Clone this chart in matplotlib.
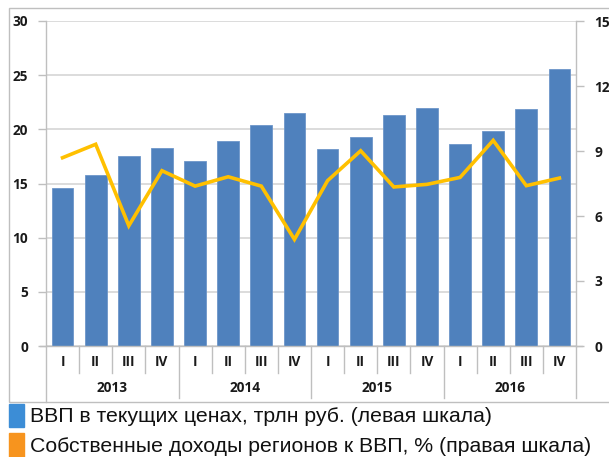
import matplotlib
matplotlib.use("Agg")
import matplotlib.pyplot as plt
from matplotlib.patches import Rectangle
import matplotlib.transforms as mtransforms

quarters = ["I", "II", "III", "IV"] * 4
years = ["2013", "2014", "2015", "2016"]
gdp = [14.6, 15.8, 17.5, 18.3, 17.1, 18.9, 20.4, 21.5,
       18.2, 19.3, 21.3, 22.0, 18.6, 19.8, 21.9, 25.6]
own_rev = [8.69, 9.31, 5.55, 8.09, 7.38, 7.81, 7.38, 4.92,
           7.63, 9.01, 7.34, 7.46, 7.78, 9.49, 7.40, 7.75]
left_ticks = [0, 5, 10, 15, 20, 25, 30]
right_ticks = [0, 3, 6, 9, 12, 15]
legend_labels = ["ВВП в текущих ценах, трлн руб. (левая шкала)",
                 "Собственные доходы регионов к ВВП, % (правая шкала)"]

W, H = 609, 457
fig = plt.figure(figsize=(W / 100, H / 100), dpi=100)

def fx(px):
    return px / W

def fy(py):
    return 1 - py / H

L, R, T, B = 46, 576, 21, 346
ax = fig.add_axes([fx(L), fy(B), fx(R) - fx(L), fy(T) - fy(B)])
ax2 = ax.twinx()

grid_c = "#D9D9D9"
spine_c = "#BFBFBF"
bar_c = "#4F81BD"
line_c = "#FFC000"
TF = "Open Sans"
TS = 9.8

x = list(range(len(gdp)))
ax.bar(x, gdp, width=0.66, color=bar_c, edgecolor="#6D96C9", linewidth=0.6, zorder=3)
ax.set_xlim(-0.5, len(gdp) - 0.5)
ax.set_ylim(0, 30)
ax.set_yticks(left_ticks)
ax.yaxis.grid(True, color=grid_c, linewidth=1.3, zorder=0)
ax.set_axisbelow(True)
ax.set_xticks([])

ax2.plot(x, own_rev, color=line_c, linewidth=2.6, solid_joinstyle="miter", zorder=5)
ax2.set_ylim(0, 15)
ax2.set_yticks(right_ticks)

ax.set_zorder(1)
ax2.set_zorder(2)
ax2.patch.set_visible(False)

for a in (ax, ax2):
    for s in ("top", "bottom"):
        a.spines[s].set_visible(False)
    a.spines["left"].set_color(spine_c)
    a.spines["right"].set_color(spine_c)
    a.spines["left"].set_linewidth(1.0)
    a.spines["right"].set_linewidth(1.0)
    a.tick_params(axis="y", length=6, width=1.0, color=spine_c, pad=7, labelcolor="#1a1a1a")
    for lab in a.get_yticklabels():
        lab.set_fontfamily(TF)
        lab.set_fontweight("bold")
        lab.set_fontsize(TS)
ax.spines["right"].set_visible(False)
ax2.spines["left"].set_visible(False)
ax.spines["left"].set_visible(True)

# baseline at 0 extending across the tick marks
ax.plot([-0.5 - 6 / 33.1, len(gdp) - 0.5 + 6 / 33.1], [0, 0], color=spine_c,
        linewidth=1.0, clip_on=False, zorder=4)

trans = mtransforms.blended_transform_factory(ax.transData, ax.transAxes)
h = B - T
q_sep = -27 / h
y_sep = -52 / h
for i in range(len(gdp) + 1):
    xs = i - 0.5
    yb = y_sep if i % 4 == 0 else q_sep
    if i == 0:
        yb = -56 / h
    ax.plot([xs, xs], [0, yb], transform=trans, color=spine_c, linewidth=1.0, clip_on=False)
for i, q in enumerate(quarters):
    ax.text(i, -16 / h, q, transform=trans, ha="center", va="center",
            fontfamily=TF, fontweight="bold", fontsize=TS, color="#1a1a1a")
for j, yr in enumerate(years):
    ax.text(j * 4 + 1.5, -42 / h, yr, transform=trans, ha="center", va="center",
            fontfamily=TF, fontweight="bold", fontsize=TS, color="#1a1a1a")

# outer chart frame
fig.patches.append(Rectangle((fx(9), fy(402)), fx(W + 5) - fx(9), fy(8) - fy(402),
                             transform=fig.transFigure, fill=False,
                             edgecolor=spine_c, linewidth=1.0))

# legend
leg_colors = ["#3C8DD6", "#F7941E"]
leg_y = [(404, 427), (433, 458)]
for (y0, y1), c, lab in zip(leg_y, leg_colors, legend_labels):
    fig.patches.append(Rectangle((fx(9), fy(y1)), fx(24) - fx(9), fy(y0) - fy(y1),
                                 transform=fig.transFigure, color=c))
    fig.text(fx(30), fy((y0 + y1) / 2 + 1), lab, ha="left", va="center",
             fontfamily="Liberation Sans", fontsize=15.3, color="#111111")

fig.savefig("out.png", dpi=100)
